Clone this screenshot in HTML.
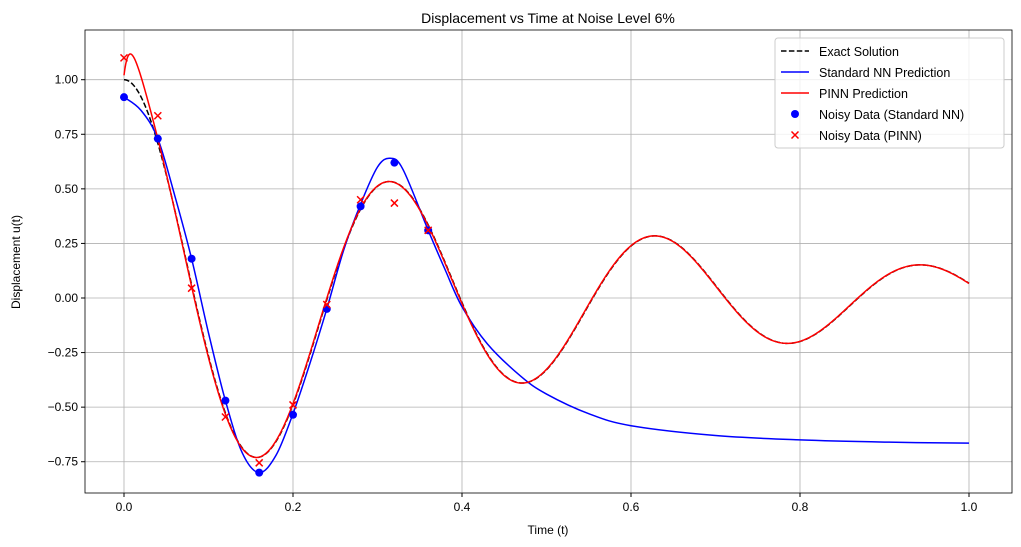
<!DOCTYPE html>
<html><head><meta charset="utf-8"><style>
body{margin:0;background:#fff;}
svg{display:block;font-family:"Liberation Sans","DejaVu Sans",sans-serif;}
</style></head><body>
<svg id="s" width="1021" height="547" xmlns="http://www.w3.org/2000/svg">
<rect width="1021" height="547" fill="#fff"/>
<g id="grid" stroke="#b0b0b0" stroke-width="0.8"></g>
<g id="curves" fill="none"></g>
<g id="marks"></g>
<rect x="85" y="30" width="927" height="463" fill="none" stroke="#000" stroke-width="0.8"/>
<g id="ticks" font-size="12" fill="#000"></g>
<text x="548" y="23" font-size="14" text-anchor="middle">Displacement vs Time at Noise Level 6%</text>
<text x="548" y="534" font-size="12" text-anchor="middle">Time (t)</text>
<text x="20" y="262" font-size="12" text-anchor="middle" transform="rotate(-90 20 262)">Displacement u(t)</text>
<g font-size="12.5">
<rect x="775" y="38" width="229" height="110" fill="#fff" fill-opacity="0.8" stroke="#ccc" rx="3"/>
<line x1="781" y1="51" x2="809" y2="51" stroke="#000" stroke-width="1.5" stroke-dasharray="5.5,2.4"/>
<text x="819" y="56">Exact Solution</text>
<line x1="781" y1="72" x2="809" y2="72" stroke="#0000ff" stroke-width="1.5"/>
<text x="819" y="77">Standard NN Prediction</text>
<line x1="781" y1="93" x2="809" y2="93" stroke="#ff0000" stroke-width="1.5"/>
<text x="819" y="98">PINN Prediction</text>
<circle cx="795" cy="114" r="4" fill="#0000ff"/>
<text x="819" y="119">Noisy Data (Standard NN)</text>
<path d="M791.5,131.5 l7,7 M798.5,131.5 l-7,7" stroke="#ff0000" stroke-width="1.5"/>
<text x="819" y="140">Noisy Data (PINN)</text>
</g>
</svg>
<script>
var X=t=>124+845*t, Y=u=>298-218.3*u, NS="http://www.w3.org/2000/svg";
function el(p,tag,a){var e=document.createElementNS(NS,tag);for(var k in a)if(k!="txt")e.setAttribute(k,a[k]);if(a.txt){e.textContent=a.txt;}document.getElementById(p).appendChild(e);return e;}
[0,0.2,0.4,0.6,0.8,1.0].forEach(t=>{el("grid","line",{x1:X(t),x2:X(t),y1:30,y2:493});el("ticks","line",{x1:X(t),x2:X(t),y1:493,y2:497,stroke:"#000"});el("ticks","text",{x:X(t),y:511,"text-anchor":"middle",txt:t.toFixed(1)});});
[1,0.75,0.5,0.25,0,-0.25,-0.5,-0.75].forEach(u=>{el("grid","line",{x1:85,x2:1012,y1:Y(u),y2:Y(u)});el("ticks","line",{x1:81,x2:85,y1:Y(u),y2:Y(u),stroke:"#000"});el("ticks","text",{x:78,y:Y(u)+4,"text-anchor":"end",txt:u.toFixed(2).replace("-","\u2212")});});
function ex(t){return Math.exp(-2*t)*(Math.cos(20*t)+0.1*Math.sin(20*t));}
function pn(t){return ex(t)+0.02*Math.exp(-t/0.02)+0.33*(t/0.01)*Math.exp(-t/0.01)-0.01*Math.sin(20*t)*Math.exp(-2*t);}
function path(f){var d="";for(var i=0;i<=1000;i++){var t=i/1000;d+=(i?"L":"M")+X(t).toFixed(2)+","+Y(f(t)).toFixed(2);}return d;}
var bp=[[0,0.92],[0.02,0.86],[0.04,0.73],[0.06,0.47],[0.08,0.18],[0.10,-0.16],[0.12,-0.47],[0.14,-0.71],[0.16,-0.80],[0.18,-0.72],[0.20,-0.53],[0.22,-0.30],[0.24,-0.05],[0.26,0.22],[0.28,0.43],[0.30,0.60],[0.315,0.64],[0.33,0.59],[0.36,0.31],[0.38,0.13],[0.40,-0.04],[0.43,-0.21],[0.47,-0.36],[0.50,-0.44],[0.55,-0.53],[0.60,-0.585],[0.70,-0.63],[0.80,-0.65],[0.90,-0.66],[1.0,-0.665]];
function cr(p){var q=p.map(a=>[X(a[0]),Y(a[1])]);var d="M"+q[0][0]+","+q[0][1];for(var i=0;i<q.length-1;i++){var p0=q[i-1]||q[i],p1=q[i],p2=q[i+1],p3=q[i+2]||q[i+1];d+="C"+(p1[0]+(p2[0]-p0[0])/6)+","+(p1[1]+(p2[1]-p0[1])/6)+" "+(p2[0]-(p3[0]-p1[0])/6)+","+(p2[1]-(p3[1]-p1[1])/6)+" "+p2[0]+","+p2[1];}return d;}
el("curves","path",{d:path(ex),stroke:"#000","stroke-width":1.5,"stroke-dasharray":"5.5,2.4"});
el("curves","path",{d:cr(bp),stroke:"#0000ff","stroke-width":1.5});
el("curves","path",{d:path(pn),stroke:"#ff0000","stroke-width":1.5});
[[0,0.92],[0.04,0.73],[0.08,0.18],[0.12,-0.47],[0.16,-0.80],[0.20,-0.535],[0.24,-0.05],[0.28,0.42],[0.32,0.62],[0.36,0.31]].forEach(a=>el("marks","circle",{cx:X(a[0]),cy:Y(a[1]),r:4,fill:"#0000ff"}));
[[0,1.10],[0.04,0.835],[0.08,0.045],[0.12,-0.545],[0.16,-0.755],[0.20,-0.49],[0.24,-0.03],[0.28,0.45],[0.32,0.435],[0.36,0.31]].forEach(a=>{var x=X(a[0]),y=Y(a[1]);el("marks","path",{d:"M"+(x-3.5)+","+(y-3.5)+"l7,7M"+(x+3.5)+","+(y-3.5)+"l-7,7",stroke:"#ff0000","stroke-width":1.5});});
</script>
</body></html>
